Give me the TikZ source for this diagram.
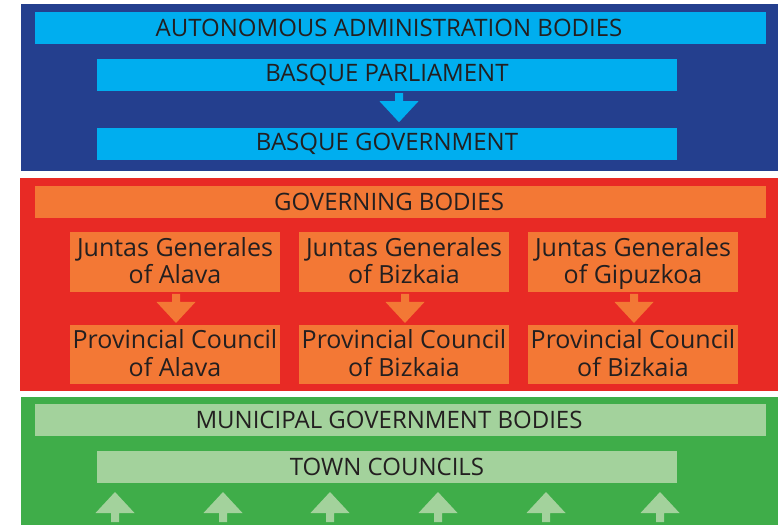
\documentclass[tikz,border=0pt]{standalone}
\usepackage{fontspec}
\setmainfont{Open Sans}
\definecolor{dblue}{HTML}{243F8E}
\definecolor{lblue}{HTML}{00AEEF}
\definecolor{redp}{HTML}{E82A25}
\definecolor{orng}{HTML}{F37835}
\definecolor{greenp}{HTML}{3FAD49}
\definecolor{lgreen}{HTML}{A3D29C}
\definecolor{txt}{HTML}{231F20}
\newcommand{\headshiftleft}{\hspace*{-23pt}}
\newcommand{\provtopstrut}{\rule{0pt}{23.8pt}\strut}
\begin{document}
\begin{tikzpicture}[x=1pt,y=-1pt,
  bar/.style={rectangle,inner sep=0pt,text=txt,align=center,
    font=\fontsize{24}{26}\selectfont},
  wide/.style={bar,minimum width=731pt,minimum height=32pt},
  mid/.style={bar,minimum width=580pt,minimum height=32pt},
  prov/.style={bar,fill=orng,minimum width=210pt,minimum height=58pt,
    font=\fontsize{25}{26}\selectfont},
  downarr/.pic={\fill (-4,0) -- (4,0) -- (4,8) -- (19.5,8) -- (0,29) -- (-19.5,8) -- (-4,8) -- cycle;},
  uparr/.pic={\fill (0,0) -- (19.5,21) -- (4,21) -- (4,30) -- (-4,30) -- (-4,21) -- (-19.5,21) -- cycle;}]
\useasboundingbox (0,0) rectangle (778,525);
% panels
\fill[dblue] (21,4) rectangle (778,171);
\fill[redp] (20,178) rectangle (778,391);
\fill[greenp] (21,397) rectangle (778,525);
% blue section
\node[wide,fill=lblue] (auto) at (400.5,27.5) {\headshiftleft AUTONOMOUS ADMINISTRATION BODIES};
\node[mid,fill=lblue] (par) at (387,75) {BASQUE PARLIAMENT};
\node[mid,fill=lblue] (gov) at (387,144) {BASQUE GOVERNMENT};
\pic[fill=lblue] at ([xshift=12pt,yshift=-2pt]par.south) {downarr};
% red section
\node[wide,fill=orng] (gb) at (400.5,202) {\headshiftleft GOVERNING BODIES};
\node[prov] (j1) at (175,262) {Juntas Generales\provtopstrut\\of Alava\strut};
\node[prov] (j2) at (404,262) {Juntas Generales\provtopstrut\\of Bizkaia\strut};
\node[prov] (j3) at (633,262) {Juntas Generales\provtopstrut\\of Gipuzkoa\strut};
\node[prov] (p1) at (175,354.5) {Provincial Council\provtopstrut\\of Alava\strut};
\node[prov] (p2) at (404,354.5) {Provincial Council\provtopstrut\\of Bizkaia\strut};
\node[prov] (p3) at (633,354.5) {Provincial Council\provtopstrut\\of Bizkaia\strut};
\foreach \n in {j1,j2,j3}
  \pic[fill=orng] at ([xshift=1pt,yshift=-2pt]\n.south) {downarr};
% green section
\node[wide,fill=lgreen] (mgb) at (400.5,420) {\headshiftleft MUNICIPAL GOVERNMENT BODIES};
\node[mid,fill=lgreen] (tc) at (387,467) {TOWN COUNCILS};
\foreach \x in {115,223,330,438,546,660}
  \pic[fill=lgreen] at (\x,492) {uparr};
\end{tikzpicture}
\end{document}
